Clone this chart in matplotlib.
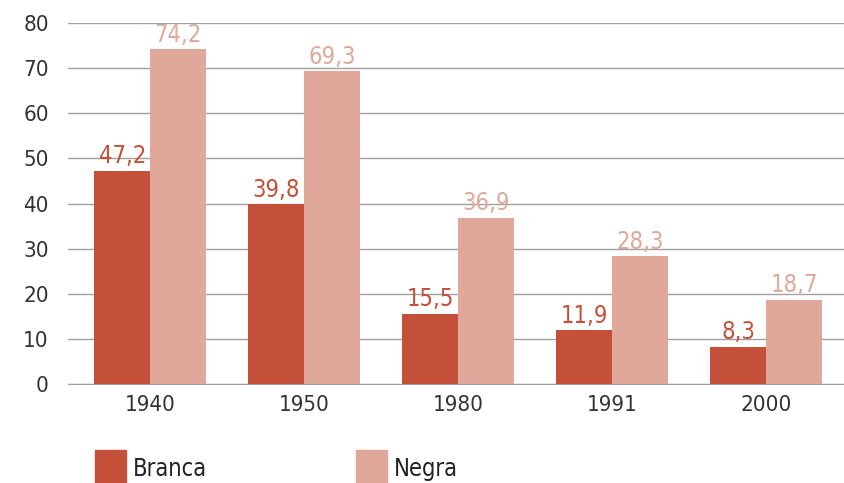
import matplotlib
matplotlib.use("Agg")
import matplotlib.pyplot as plt
import numpy as np
from matplotlib.patches import Rectangle

plt.rcParams['font.family'] = ['DejaVu Sans']
plt.rcParams['font.stretch'] = 'condensed'

anos = ['1940', '1950', '1980', '1991', '2000']
branca = [47.2, 39.8, 15.5, 11.9, 8.3]
negra = [74.2, 69.3, 36.9, 28.3, 18.7]
series_names = ['Branca', 'Negra']

cor_branca = '#C4503A'
cor_negra = '#E0A89B'
cor_texto = '#333333'

fig = plt.figure(figsize=(8.44, 4.83), dpi=100)
ax = fig.add_axes([0.081, 0.205, 0.919, 0.747])

x = np.arange(len(anos))
w = 0.364
b1 = ax.bar(x - w / 2, branca, w, color=cor_branca, zorder=3)
b2 = ax.bar(x + w / 2, negra, w, color=cor_negra, zorder=3)

def fmt(v):
    return f'{v:.1f}'.replace('.', ',')

for bars, vals, c in [(b1, branca, cor_branca), (b2, negra, cor_negra)]:
    for r, v in zip(bars, vals):
        ax.annotate(fmt(v), (r.get_x() + r.get_width() / 2, v),
                    xytext=(0, 2), textcoords='offset points',
                    ha='center', va='bottom', color=c, fontsize=17, zorder=4)

ax.set_ylim(0, 80)
ax.set_xlim(-0.532, 4.506)
ax.set_yticks(range(0, 81, 10))
ax.set_xticks(x)
ax.set_xticklabels(anos)
ax.yaxis.grid(True, color='#A0A0A0', linewidth=1, zorder=0)
ax.tick_params(axis='both', length=0, labelsize=16, colors=cor_texto)
ax.tick_params(axis='y', pad=14)
ax.tick_params(axis='x', pad=8)
for s in ['top', 'right', 'left']:
    ax.spines[s].set_visible(False)
ax.spines['bottom'].set_color('#A0A0A0')

# legend
for nome, cor, lx in zip(series_names, [cor_branca, cor_negra], [95, 356]):
    fig.add_artist(Rectangle((lx / 844, 0), 31 / 844, 33 / 483,
                             transform=fig.transFigure, color=cor, clip_on=False))
    fig.text((lx + 38) / 844, 7 / 483, nome, fontsize=17, color='#222222',
             va='baseline', ha='left')

fig.savefig('out.png', dpi=100)
